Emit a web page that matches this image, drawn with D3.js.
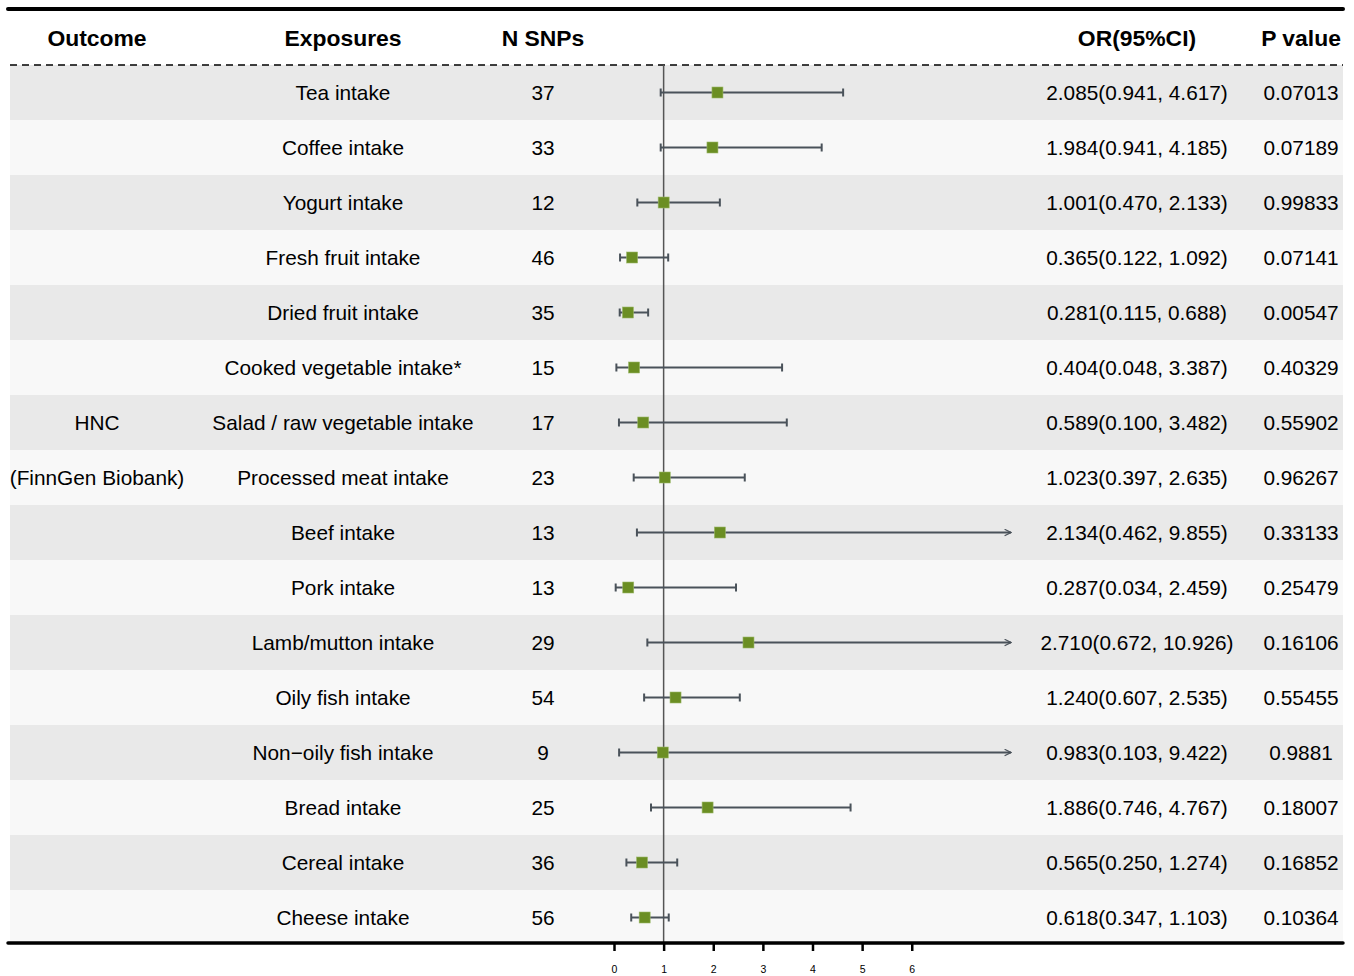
<!DOCTYPE html>
<html>
<head>
<meta charset="utf-8">
<script src="https://cdn.jsdelivr.net/npm/d3@7"></script>
<style>
  body { margin: 0; background: #ffffff; }
  svg { display: block; font-family: "Liberation Sans", Arial, sans-serif; }
</style>
</head>
<body>
<svg id="chart" width="1354" height="976"></svg>
<script>
// Forest plot: dietary exposures vs HNC (FinnGen Biobank)
const exposures = [
  "Tea intake", "Coffee intake", "Yogurt intake", "Fresh fruit intake",
  "Dried fruit intake", "Cooked vegetable intake*", "Salad / raw vegetable intake",
  "Processed meat intake", "Beef intake", "Pork intake", "Lamb/mutton intake",
  "Oily fish intake", "Non\u2212oily fish intake", "Bread intake", "Cereal intake",
  "Cheese intake"
];
const nSnps = [37, 33, 12, 46, 35, 15, 17, 23, 13, 13, 29, 54, 9, 25, 36, 56];
const orValues = [2.085, 1.984, 1.001, 0.365, 0.281, 0.404, 0.589, 1.023, 2.134, 0.287, 2.710, 1.240, 0.983, 1.886, 0.565, 0.618];
const ciLower = [0.941, 0.941, 0.470, 0.122, 0.115, 0.048, 0.100, 0.397, 0.462, 0.034, 0.672, 0.607, 0.103, 0.746, 0.250, 0.347];
const ciUpper = [4.617, 4.185, 2.133, 1.092, 0.688, 3.387, 3.482, 2.635, 9.855, 2.459, 10.926, 2.535, 9.422, 4.767, 1.274, 1.103];
const pValues = ["0.07013", "0.07189", "0.99833", "0.07141", "0.00547", "0.40329", "0.55902", "0.96267", "0.33133", "0.25479", "0.16106", "0.55455", "0.9881", "0.18007", "0.16852", "0.10364"];
const outcomeLines = [{ row: 6, text: "HNC" }, { row: 7, text: "(FinnGen Biobank)" }];
const headers = ["Outcome", "Exposures", "N SNPs", "OR(95%CI)", "P value"];
const axisTicks = [0, 1, 2, 3, 4, 5, 6];
const xLimits = [0, 8];

const svg = d3.select("#chart");

const left = 10, right = 1343;
const tableTop = 65, tableBottom = 945;

const y = d3.scaleBand().domain(d3.range(exposures.length)).range([tableTop, tableBottom]).padding(0);
const x = d3.scaleLinear().domain(xLimits).range([614, 1011]);

const cols = { outcome: 97, exposure: 343, nsnp: 543, or: 1137, p: 1301 };

// row bands
svg.append("g").selectAll("rect")
  .data(exposures)
  .join("rect")
  .attr("x", left)
  .attr("y", (d, i) => y(i))
  .attr("width", right - left)
  .attr("height", y.bandwidth())
  .attr("fill", (d, i) => i % 2 === 0 ? "#e9e9e9" : "#f8f8f8");

// header
svg.append("line")
  .attr("x1", 8).attr("x2", right).attr("y1", 9).attr("y2", 9)
  .attr("stroke", "#000").attr("stroke-width", 4).attr("stroke-linecap", "round");

const headerX = [cols.outcome, cols.exposure, cols.nsnp, cols.or, cols.p];
svg.append("g").selectAll("text")
  .data(headers)
  .join("text")
  .attr("x", (d, i) => headerX[i])
  .attr("y", 46)
  .attr("text-anchor", "middle")
  .attr("font-size", 22.9)
  .attr("font-weight", "bold")
  .attr("fill", "#000")
  .text(d => d);

svg.append("line")
  .attr("x1", left).attr("x2", right).attr("y1", tableTop).attr("y2", tableTop)
  .attr("stroke", "#000").attr("stroke-width", 1.5).attr("stroke-dasharray", "7,5");

// table text
const cy = i => y(i) + y.bandwidth() / 2 + 7;
const textG = svg.append("g").attr("font-size", 20.8).attr("fill", "#000").attr("text-anchor", "middle");

textG.selectAll("text.exp").data(exposures).join("text")
  .attr("class", "exp").attr("x", cols.exposure).attr("y", (d, i) => cy(i)).text(d => d);
textG.selectAll("text.n").data(nSnps).join("text")
  .attr("class", "n").attr("x", cols.nsnp).attr("y", (d, i) => cy(i)).text(d => d);
textG.selectAll("text.or").data(orValues).join("text")
  .attr("class", "or").attr("x", cols.or).attr("y", (d, i) => cy(i))
  .text((d, i) => `${d.toFixed(3)}(${ciLower[i].toFixed(3)}, ${ciUpper[i].toFixed(3)})`);
textG.selectAll("text.p").data(pValues).join("text")
  .attr("class", "p").attr("x", cols.p).attr("y", (d, i) => cy(i)).text(d => d);
textG.selectAll("text.out").data(outcomeLines).join("text")
  .attr("class", "out").attr("x", cols.outcome).attr("y", d => cy(d.row)).text(d => d.text);

// reference line at OR = 1
svg.append("line")
  .attr("x1", x(1)).attr("x2", x(1)).attr("y1", tableTop).attr("y2", tableBottom - 2)
  .attr("stroke", "#555").attr("stroke-width", 1.5);

// confidence intervals
svg.append("defs").append("marker")
  .attr("id", "arrow")
  .attr("viewBox", "0 0 10 10")
  .attr("refX", 9).attr("refY", 5)
  .attr("markerWidth", 4).attr("markerHeight", 4)
  .attr("markerUnits", "strokeWidth")
  .attr("orient", "auto")
  .append("path")
  .attr("d", "M1,1 L9,5 L1,9")
  .attr("fill", "none").attr("stroke", "#4a525a").attr("stroke-width", 1.6);

const ciG = svg.append("g").attr("stroke", "#4a525a").attr("stroke-width", 2);
const cap = 4;
exposures.forEach((e, i) => {
  const yc = y(i) + y.bandwidth() / 2;
  const lo = Math.max(ciLower[i], xLimits[0]);
  const clipped = ciUpper[i] > xLimits[1];
  const hi = clipped ? xLimits[1] : ciUpper[i];
  const line = ciG.append("line")
    .attr("x1", x(lo)).attr("x2", x(hi)).attr("y1", yc).attr("y2", yc);
  if (clipped) line.attr("marker-end", "url(#arrow)");
  ciG.append("line").attr("x1", x(lo)).attr("x2", x(lo)).attr("y1", yc - cap).attr("y2", yc + cap);
  if (!clipped) ciG.append("line").attr("x1", x(hi)).attr("x2", x(hi)).attr("y1", yc - cap).attr("y2", yc + cap);
});

// point estimates
const sq = 11;
svg.append("g").selectAll("rect")
  .data(orValues)
  .join("rect")
  .attr("x", d => x(d) - sq / 2)
  .attr("y", (d, i) => y(i) + y.bandwidth() / 2 - sq / 2)
  .attr("width", sq).attr("height", sq)
  .attr("fill", "#6b8e23")
  .attr("stroke", "#9cb86a").attr("stroke-width", 0.6);

// bottom rule and axis
svg.append("line")
  .attr("x1", 8).attr("x2", right).attr("y1", 943).attr("y2", 943)
  .attr("stroke", "#000").attr("stroke-width", 3.5).attr("stroke-linecap", "round");

const axis = svg.append("g")
  .attr("transform", "translate(0,944)")
  .call(d3.axisBottom(x).tickValues(axisTicks).tickSize(7).tickPadding(15).tickFormat(d3.format("d")));
axis.select(".domain").remove();
axis.selectAll(".tick line").attr("stroke", "#000").attr("stroke-width", 2.5);
axis.selectAll(".tick text").attr("font-size", 10.5).attr("fill", "#000")
  .attr("font-family", "\"Liberation Sans\", Arial, sans-serif");
</script>
</body>
</html>
